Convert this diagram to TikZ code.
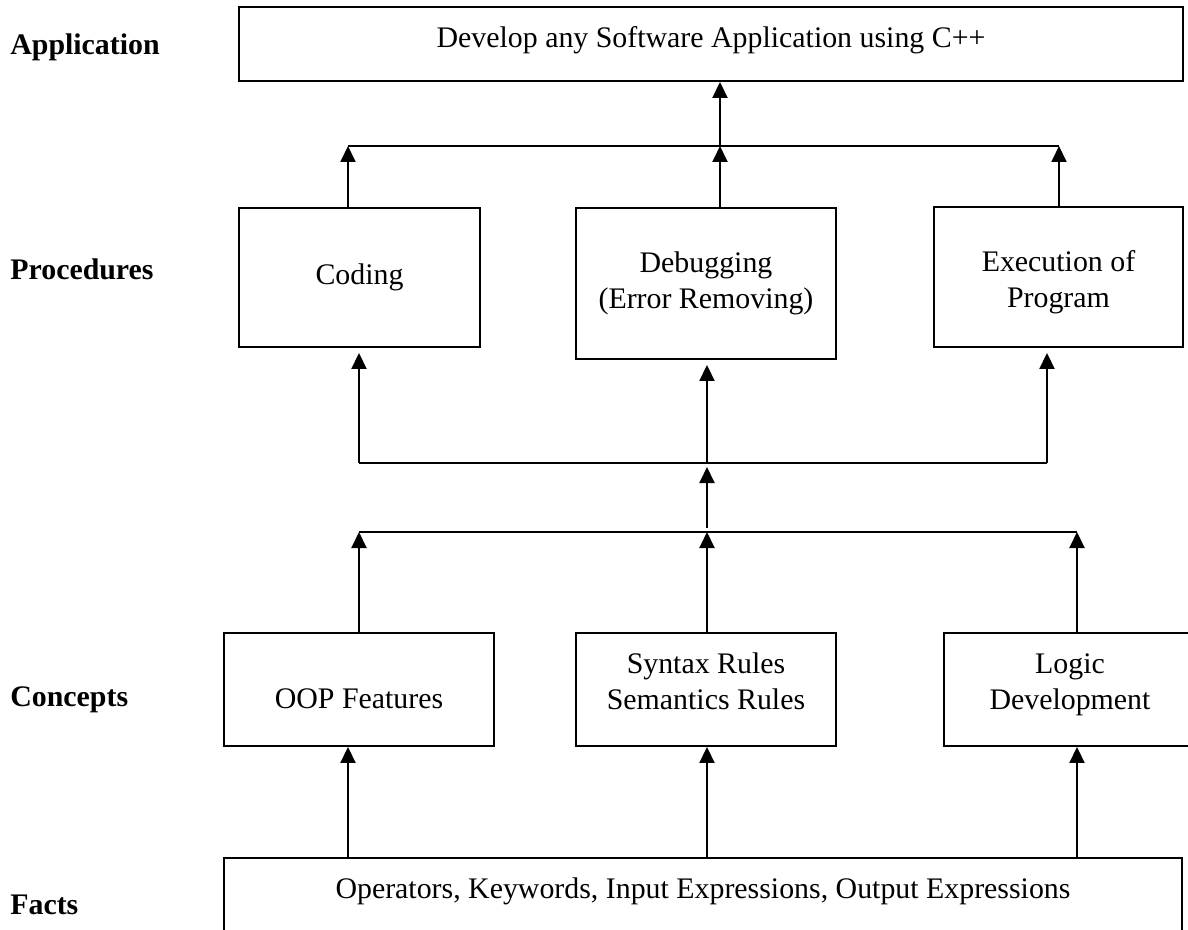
\documentclass[tikz,border=0pt]{standalone}
\usepackage{fontspec}
\setmainfont{Liberation Serif}
\usetikzlibrary{arrows.meta}

\tikzset{
	box/.style={draw, line width=1.1pt, inner sep=0pt, align=center, font=\fontsize{17}{20.5}\selectfont},
	level/.style={anchor=base west, inner sep=0pt, font=\fontsize{17}{20.5}\selectfont\bfseries},
	arr/.style={line width=1.1pt, -{Triangle[length=0.32cm, width=0.3cm]}},
	bus/.style={line width=1.1pt}
}

\begin{document}
\begin{tikzpicture}[x=0.02cm, y=-0.02cm]
			%%%%% START %%%%%
			\useasboundingbox (0,0) rectangle (1188,930);
			
			\node[level] (lApp) at (10, 54) {Application};
			\node[level] (lProc) at (10, 279) {Procedures};
			\node[level] (lConc) at (10, 706) {Concepts};
			\node[level] (lFacts) at (10, 914) {Facts};
			
			\node[box, anchor=base, minimum width=18.88cm, text height=0.8cm, text depth=0.68cm] (App) at (711, 47) {Develop any Software Application using C++};
			
			\node[box, minimum width=4.82cm, minimum height=2.78cm] (Coding) at (359.5, 277.5) {Coding};
			\node[box, minimum width=5.2cm, minimum height=3.02cm] (Debugging) at (706, 283.5) {Debugging\\(Error Removing)};
			\node[box, minimum width=4.98cm, minimum height=2.8cm, text height=1.33cm] (Execution) at (1058.5, 277) {Execution of\\Program};
			
			\node[box, minimum width=5.4cm, minimum height=2.26cm, text height=0.77cm] (OOP) at (359, 689.5) {OOP Features};
			\node[box, minimum width=5.2cm, minimum height=2.26cm, text depth=0.32cm] (Syntax) at (706, 689.5) {Syntax Rules\\Semantics Rules};
			\node[box, minimum width=5.04cm, minimum height=2.26cm, text depth=0.32cm] (Logic) at (1070, 689.5) {Logic\\Development};
			
			\node[box, anchor=base, minimum width=19.16cm, text height=0.8cm, text depth=0.84cm] (Facts) at (703, 898) {Operators, Keywords, Input Expressions, Output Expressions};
			
			% procedures -> application
			\coordinate (top1) at (348, 146);
			\coordinate (top2) at (720, 146);
			\coordinate (top3) at (1059, 146);
			\draw[bus] (top1) -- (top3);
			\draw[arr] (Coding.north -| top1) -- (top1);
			\draw[arr] (Debugging.north -| top2) -- (top2);
			\draw[arr] (Execution.north -| top3) -- (top3);
			\draw[arr] (top2) -- (App.south -| top2);
			
			% concepts -> procedures
			\coordinate (mid1) at (359, 463);
			\coordinate (mid2) at (707, 463);
			\coordinate (mid3) at (1047, 463);
			\draw[bus] (mid1) -- (mid3);
			\draw[arr, shorten >=0.1cm] (mid1) -- (Coding.south -| mid1);
			\draw[arr, shorten >=0.1cm] (mid2) -- (Debugging.south -| mid2);
			\draw[arr, shorten >=0.1cm] (mid3) -- (Execution.south -| mid3);
			
			\coordinate (low1) at (359, 532);
			\coordinate (low2) at (707, 532);
			\coordinate (low3) at (1077, 532);
			\draw[bus] (low1) -- (low3);
			\draw[arr, shorten >=0.08cm, shorten <=0.08cm] (low2) -- (mid2);
			\draw[arr] (OOP.north -| low1) -- (low1);
			\draw[arr] (Syntax.north -| low2) -- (low2);
			\draw[arr] (Logic.north -| low3) -- (low3);
			
			% facts -> concepts
			\draw[arr] (Facts.north -| top1) -- (OOP.south -| top1);
			\draw[arr] (Facts.north -| low2) -- (Syntax.south -| low2);
			\draw[arr] (Facts.north -| low3) -- (Logic.south -| low3);
			
			%%%%% END %%%%%
\end{tikzpicture}
\end{document}
